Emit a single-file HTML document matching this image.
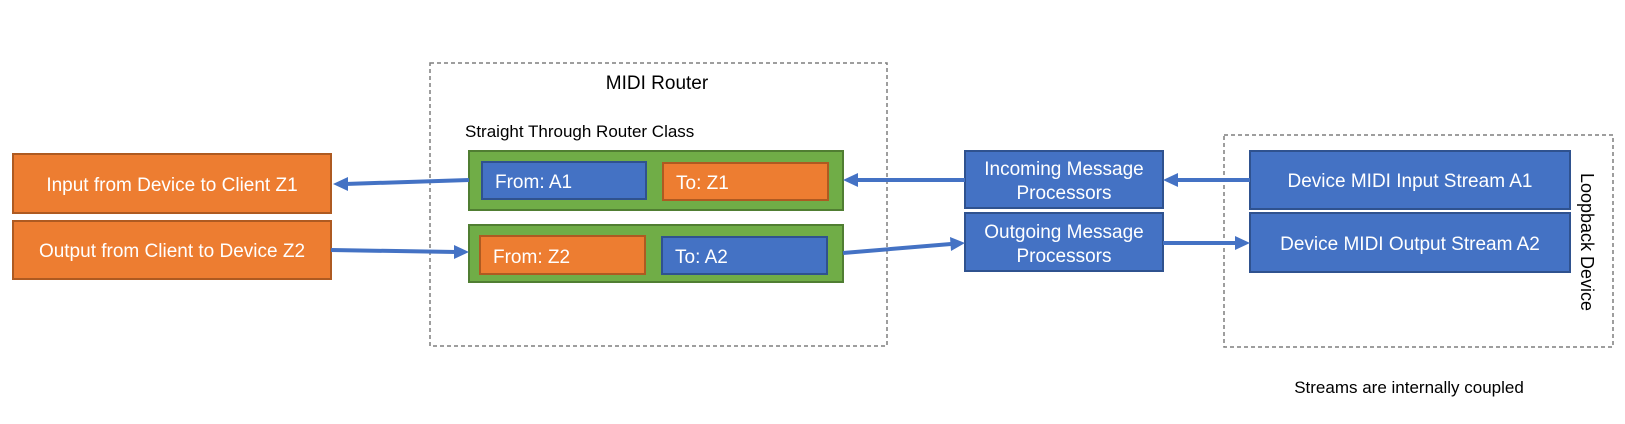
<!DOCTYPE html>
<html><head><meta charset="utf-8"><style>
html,body{margin:0;padding:0;background:#fff;}
svg{display:block;}
text{font-family:"Liberation Sans",sans-serif;}
</style></head><body>
<svg width="1625" height="424" viewBox="0 0 1625 424" xmlns="http://www.w3.org/2000/svg">
<g fill="none" stroke="#7f7f7f" stroke-width="1.5" stroke-dasharray="4,3">
<rect x="430" y="63" width="457" height="283"/>
<rect x="1224" y="135" width="389" height="212"/>
</g>
<text x="657" y="89" font-size="19" text-anchor="middle" fill="#000">MIDI Router</text>
<text x="465" y="137" font-size="17" fill="#000">Straight Through Router Class</text>
<text x="1409" y="393" font-size="17" text-anchor="middle" fill="#000">Streams are internally coupled</text>
<text transform="translate(1581,242) rotate(90)" font-size="18" text-anchor="middle" fill="#000">Loopback Device</text>

<g stroke-width="2">
<rect x="13" y="154" width="318" height="59" fill="#ED7D31" stroke="#AE5A21"/>
<rect x="13" y="221" width="318" height="58" fill="#ED7D31" stroke="#AE5A21"/>
<rect x="469" y="151" width="374" height="59" fill="#70AD47" stroke="#507E32"/>
<rect x="469" y="225" width="374" height="57" fill="#70AD47" stroke="#507E32"/>
<rect x="482" y="162" width="164" height="37" fill="#4472C4" stroke="#2F528F"/>
<rect x="663" y="163" width="165" height="37" fill="#ED7D31" stroke="#AE5A21"/>
<rect x="480" y="236" width="165" height="38" fill="#ED7D31" stroke="#AE5A21"/>
<rect x="662" y="237" width="165" height="37" fill="#4472C4" stroke="#2F528F"/>
<rect x="965" y="151" width="198" height="57" fill="#4472C4" stroke="#2F528F"/>
<rect x="965" y="213" width="198" height="58" fill="#4472C4" stroke="#2F528F"/>
<rect x="1250" y="151" width="320" height="58" fill="#4472C4" stroke="#2F528F"/>
<rect x="1250" y="213" width="320" height="59" fill="#4472C4" stroke="#2F528F"/>
</g>
<g fill="#fff" font-size="19">
<text x="172" y="191" text-anchor="middle">Input from Device to Client Z1</text>
<text x="172" y="257" text-anchor="middle">Output from Client to Device Z2</text>
<text x="495" y="188">From: A1</text>
<text x="676" y="189">To: Z1</text>
<text x="493" y="263">From: Z2</text>
<text x="675" y="263">To:  A2</text>
<text x="1064" y="175" text-anchor="middle">Incoming Message</text>
<text x="1064" y="199" text-anchor="middle">Processors</text>
<text x="1064" y="238" text-anchor="middle">Outgoing Message</text>
<text x="1064" y="262" text-anchor="middle">Processors</text>
<text x="1410" y="187" text-anchor="middle">Device MIDI Input Stream A1</text>
<text x="1410" y="250" text-anchor="middle">Device MIDI Output Stream A2</text>
</g>
<g stroke="#4472C4" stroke-width="4" fill="none">
<line x1="469" y1="180" x2="345" y2="184"/>
<line x1="331" y1="250" x2="456" y2="252"/>
<line x1="965" y1="180" x2="857" y2="180"/>
<line x1="843" y1="253" x2="951" y2="244"/>
<line x1="1250" y1="180" x2="1177" y2="180"/>
<line x1="1163" y1="243" x2="1236" y2="243"/>
</g>
<g fill="#4472C4">
<polygon points="333,184 348,177 348,191"/>
<polygon points="469,252 454,245 454,259"/>
<polygon points="843,180 858,173 858,187"/>
<polygon points="965,243 950,237 951,251"/>
<polygon points="1163,180 1178,173 1178,187"/>
<polygon points="1250,243 1235,236 1235,250"/>
</g>
</svg>
</body></html>
